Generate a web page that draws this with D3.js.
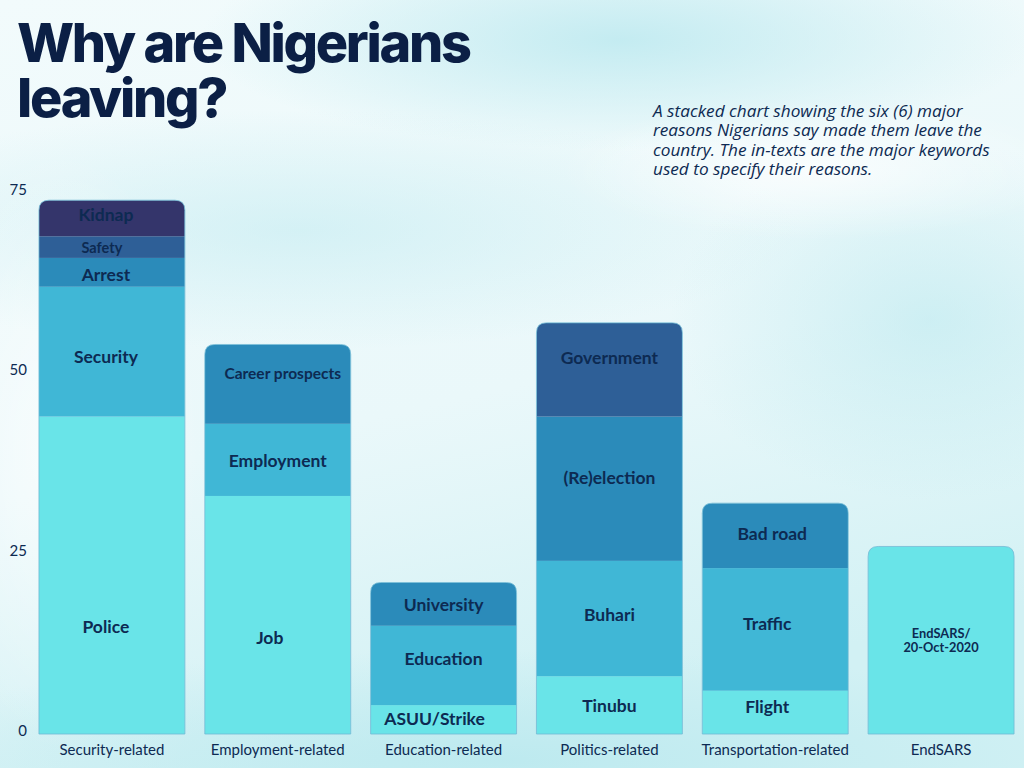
<!DOCTYPE html>
<html>
<head>
<meta charset="utf-8">
<script src="https://cdn.jsdelivr.net/npm/d3@7"></script>
<style>
  html, body { margin: 0; padding: 0; background: #eef9fb; }
  svg { display: block; }
</style>
</head>
<body>
<svg id="chart" width="1024" height="768"></svg>
<script>
// ---------------- DATA ----------------
const categories = ["Security-related", "Employment-related", "Education-related",
                    "Politics-related", "Transportation-related", "EndSARS"];
// stacked values, bottom (level1) to top (level5)
const level1 = [44, 33, 4, 8, 6, 26];
const level2 = [18, 10, 11, 16, 17, 0];
const level3 = [4, 11, 6, 20, 9, 0];
const level4 = [3, 0, 0, 13, 0, 0];
const level5 = [5, 0, 0, 0, 0, 0];
// in-bar keyword labels per level
const labels1 = ["Police", "Job", "ASUU/Strike", "Tinubu", "Flight", "EndSARS/\n20-Oct-2020"];
const labels2 = ["Security", "Employment", "Education", "Buhari", "Traffic", ""];
const labels3 = ["Arrest", "Career prospects", "University", "(Re)election", "Bad road", ""];
const labels4 = ["Safety", "", "", "Government", "", ""];
const labels5 = ["Kidnap", "", "", "", "", ""];
const yTicks = [0, 25, 50, 75];
const titleLines = ["Why are Nigerians", "leaving?"];
const noteLines = ["A stacked chart showing the six (6) major",
                   "reasons Nigerians say made them leave the",
                   "country. The in-texts are the major keywords",
                   "used to specify their reasons."];

// ---------------- SETUP ----------------
const svg = d3.select("#chart");
const W = 1024, H = 768;
const levels = ["l1", "l2", "l3", "l4", "l5"];
const levelValues = [level1, level2, level3, level4, level5];
const levelLabels = [labels1, labels2, labels3, labels4, labels5];
const colors = ["#69e4e8", "#40b7d6", "#2b8bba", "#2e5f97", "#34356b"];

const rows = categories.map((c, i) => {
  const r = { cat: c };
  levels.forEach((k, j) => r[k] = levelValues[j][i]);
  return r;
});
const stacked = d3.stack().keys(levels)(rows);

// ---------------- BACKGROUND ----------------
const defs = svg.append("defs");
function radial(id, stops) {
  const g = defs.append("radialGradient").attr("id", id);
  stops.forEach(s => g.append("stop").attr("offset", s[0]).attr("stop-color", s[1]).attr("stop-opacity", s[2]));
}
const lin = defs.append("linearGradient").attr("id", "bgLin").attr("x1", 0).attr("y1", 0).attr("x2", 0.3).attr("y2", 1);
lin.append("stop").attr("offset", 0).attr("stop-color", "#f2fbfc");
lin.append("stop").attr("offset", 0.6).attr("stop-color", "#eaf8fa");
lin.append("stop").attr("offset", 1).attr("stop-color", "#d2f1f4");
radial("blobA", [[0, "#bfeaf0", 0.9], [1, "#bfeaf0", 0]]);
radial("blobB", [[0, "#ffffff", 0.9], [1, "#ffffff", 0]]);
radial("blobC", [[0, "#b8e8ee", 0.8], [1, "#b8e8ee", 0]]);

svg.append("rect").attr("width", W).attr("height", H).attr("fill", "url(#bgLin)");
svg.append("ellipse").attr("cx", 620).attr("cy", 40).attr("rx", 420).attr("ry", 110).attr("fill", "url(#blobA)");
svg.append("ellipse").attr("cx", 300).attr("cy", 230).attr("rx", 500).attr("ry", 120).attr("fill", "url(#blobA)").attr("opacity", 0.6);
svg.append("ellipse").attr("cx", 930).attr("cy", 320).attr("rx", 260).attr("ry", 180).attr("fill", "url(#blobC)").attr("opacity", 0.7);
svg.append("ellipse").attr("cx", 500).attr("cy", 760).attr("rx", 650).attr("ry", 110).attr("fill", "url(#blobC)");
svg.append("ellipse").attr("cx", 60).attr("cy", 450).attr("rx", 140).attr("ry", 300).attr("fill", "url(#blobB)").attr("opacity", 0.7);
svg.append("ellipse").attr("cx", 820).attr("cy", 170).attr("rx", 260).attr("ry", 70).attr("fill", "url(#blobB)").attr("opacity", 0.8);

// ---------------- SCALES ----------------
const x = d3.scaleBand().domain(categories).range([29, 1024]).paddingInner(0.12).paddingOuter(0.06);
const y = d3.scaleLinear().domain([0, 75]).range([734, 193]);

// ---------------- BARS ----------------
const radius = 10;
function barPath(x0, w, yTop, yBot) {
  const r = Math.min(radius, (yBot - yTop));
  return `M${x0},${yBot}V${yTop + r}Q${x0},${yTop} ${x0 + r},${yTop}H${x0 + w - r}Q${x0 + w},${yTop} ${x0 + w},${yTop + r}V${yBot}Z`;
}
const totals = rows.map(r => d3.sum(levels, k => r[k]));

categories.forEach((c, i) => {
  const x0 = x(c), w = x.bandwidth();
  defs.append("clipPath").attr("id", "clip" + i)
    .append("path").attr("d", barPath(x0, w, y(totals[i]), y(0)));
});

const barG = svg.append("g");
stacked.forEach((layer, j) => {
  barG.append("g")
    .selectAll("rect")
    .data(layer.map((d, i) => ({ d, i })).filter(o => o.d[1] > o.d[0]))
    .join("rect")
    .attr("clip-path", o => `url(#clip${o.i})`)
    .attr("x", o => x(categories[o.i]))
    .attr("width", x.bandwidth())
    .attr("y", o => y(o.d[1]))
    .attr("height", o => y(o.d[0]) - y(o.d[1]))
    .attr("fill", colors[j]);
});
barG.selectAll("path.outline")
  .data(categories)
  .join("path")
  .attr("class", "outline")
  .attr("d", (c, i) => barPath(x(c), x.bandwidth(), y(totals[i]), y(0)))
  .attr("fill", "none")
  .attr("stroke", "#6fb9d4")
  .attr("stroke-opacity", 0.8)
  .attr("stroke-width", 1);

// ---------------- IN-BAR LABELS ----------------
const labelSize = { "Safety": 14.5, "Career prospects": 15.5, "EndSARS/\n20-Oct-2020": 12.8 };
const labelDy = { "Police": 51, "Job": 22, "Career prospects": -11, "Government": -13,
                  "(Re)election": -12, "Education": -7, "Traffic": -6, "Flight": -6,
                  "Kidnap": -4, "Buhari": -5, "Arrest": 2, "Security": 4, "Bad road": -3, "ASUU/Strike": -2 };
const labelDx = { "Police": -6, "Job": -8, "Career prospects": 5, "ASUU/Strike": -9,
                  "Flight": -8, "Traffic": -8, "Bad road": -3, "Kidnap": -6, "Safety": -10,
                  "Arrest": -6, "Security": -6 };
const labG = svg.append("g")
  .attr("font-family", "Lato, 'Open Sans', sans-serif")
  .attr("font-weight", 700)
  .attr("fill", "#0d2a52")
  .attr("text-anchor", "middle");
stacked.forEach((layer, j) => {
  layer.forEach((d, i) => {
    const txt = levelLabels[j][i];
    if (!txt || d[1] <= d[0]) return;
    const cx = x(categories[i]) + x.bandwidth() / 2 + (labelDx[txt] || 0);
    const cy = (y(d[0]) + y(d[1])) / 2 + (labelDy[txt] || 0);
    const fs = labelSize[txt] || 17.5;
    const parts = txt.split("\n");
    const t = labG.append("text")
      .attr("x", cx).attr("y", cy)
      .attr("font-size", fs)
      .attr("dominant-baseline", "central");
    parts.forEach((p, k) => {
      t.append("tspan").attr("x", cx)
        .attr("dy", k === 0 ? -(parts.length - 1) * fs * 0.55 : fs * 1.1)
        .text(p);
    });
  });
});

// ---------------- AXES ----------------
const yAxis = d3.axisLeft(y).tickValues(yTicks).tickSize(0).tickPadding(0);
const yg = svg.append("g").attr("transform", "translate(27,0)").call(yAxis);
yg.select(".domain").remove();
yg.selectAll("text")
  .attr("font-family", "Lato, 'Open Sans', sans-serif")
  .attr("font-size", 15)
  .attr("fill", "#0d2a52")
  .attr("text-anchor", "end")
  .attr("dy", "0.1em");

const xAxis = d3.axisBottom(x).tickSize(0).tickPadding(10);
const xg = svg.append("g").attr("transform", `translate(0,${y(0)})`).call(xAxis);
xg.select(".domain").remove();
xg.selectAll("text")
  .attr("font-family", "Lato, 'Open Sans', sans-serif")
  .attr("font-size", 15)
  .attr("fill", "#0d2a52");

// ---------------- TITLE & NOTE ----------------
titleLines.forEach((l, k) => {
  svg.append("text")
    .attr("x", 17).attr("y", 62 + k * 55)
    .attr("font-family", "Inter, sans-serif")
    .attr("font-weight", 800)
    .attr("font-size", 54)
    .attr("letter-spacing", -2.3)
    .attr("fill", "#0b1f45")
    .text(l);
});

noteLines.forEach((l, k) => {
  svg.append("text")
    .attr("x", 653).attr("y", 117 + k * 19.3)
    .attr("font-family", "'Open Sans', Lato, sans-serif")
    .attr("font-style", "italic")
    .attr("font-size", 17.2)
    .attr("fill", "#0d2a52")
    .text(l);
});
</script>
</body>
</html>
